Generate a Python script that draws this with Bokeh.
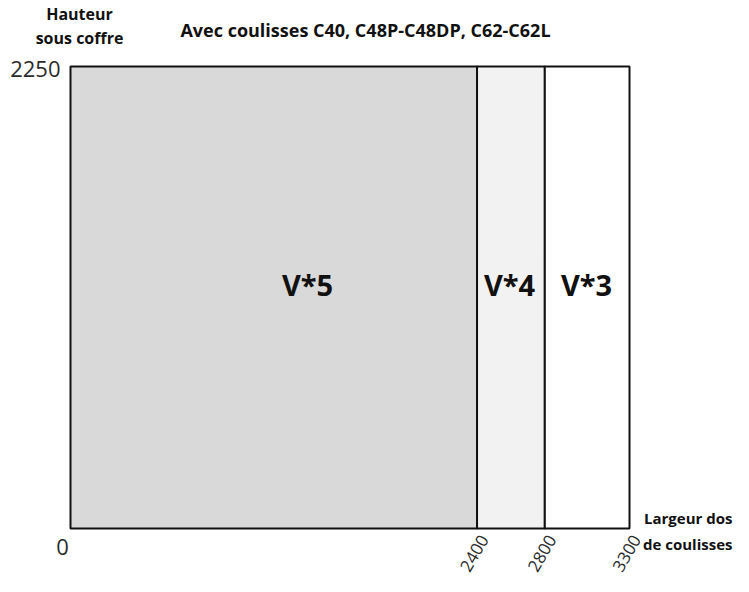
import math
from bokeh.plotting import figure
from bokeh.models import Range1d
from bokeh.core.properties import value
from bokeh.embed import file_html
from bokeh.resources import INLINE

# ---- data ----
zone_left = [0, 2400, 2800]
zone_right = [2400, 2800, 3300]
zone_labels = ["V*5", "V*4", "V*3"]
zone_colors = ["#d9d9d9", "#f2f2f2", "#ffffff"]
h_max = 2250
x_max = 3300
x_ticks_rot = [2400, 2800, 3300]
title = "Avec coulisses C40, C48P-C48DP, C62-C62L"
y_title = ["Hauteur", "sous coffre"]
x_title = ["Largeur dos", "de coulisses"]

# ---- layout (pixel geometry of the plot box) ----
W, H = 733, 576
S = 6  # small upward shift so rotated labels fit
L_PX, R_PX, T_PX, B_PX = 70, 629, 72 - S, 534 - S
sx = (R_PX - L_PX) / x_max
sy = (B_PX - T_PX) / h_max
x0 = -L_PX / sx
x1 = x0 + W / sx
y1 = h_max + T_PX / sy
y0 = y1 - H / sy

def X(px):
    return x0 + px / sx

def Y(py):
    return y1 - (py - S) / sy

p = figure(width=W, height=H, output_backend="svg", toolbar_location=None,
           x_range=Range1d(x0, x1), y_range=Range1d(y0, y1),
           min_border=0, min_border_left=0, min_border_right=0,
           min_border_top=0, min_border_bottom=0)
p.axis.visible = False
p.grid.visible = False
p.outline_line_color = None
p.background_fill_color = "white"

p.quad(left=zone_left, right=zone_right, bottom=[0] * 3, top=[h_max] * 3,
       fill_color=zone_colors, line_color="#111111", line_width=2)

FONT = value("Open Sans")
INK = "#111111"
TICK = "#2b2b2b"

# zone labels
zl_x = [X(307), X(509), X(586)]
zl_y = [Y(290)] * 3
p.text(x=zl_x, y=zl_y, text=zone_labels, text_font=FONT, text_font_style="bold",
       text_font_size="29px", text_align="center", text_baseline="middle", text_color=INK)

# title
p.text(x=[X(365)], y=[Y(35)], text=[title], text_font=FONT, text_font_style="bold",
       text_font_size="18px", text_align="center", text_baseline="middle", text_color=INK)

# y-axis title
p.text(x=[X(79)] * 2, y=[Y(19), Y(43)], text=y_title, text_font=FONT, text_font_style="bold",
       text_font_size="16px", text_align="center", text_baseline="middle", text_color=INK)

# x-axis title
p.text(x=[X(732)] * 2, y=[Y(523), Y(549)], text=x_title, text_font=FONT, text_font_style="bold",
       text_font_size="15px", text_align="right", text_baseline="middle", text_color=INK)

# tick labels
p.text(x=[X(60)], y=[h_max - 2 / sy], text=[str(h_max)], text_font=FONT,
       text_font_size="22px", text_align="right", text_baseline="middle", text_color=TICK)
p.text(x=[0 - 8 / sx], y=[0 - 18 / sy], text=["0"], text_font=FONT,
       text_font_size="22px", text_align="center", text_baseline="middle", text_color=TICK)
p.text(x=[t + 7 / sx for t in x_ticks_rot], y=[0 - 8 / sy] * len(x_ticks_rot),
       text=[str(t) for t in x_ticks_rot], text_font=FONT, text_font_size="17px",
       text_align="right", text_baseline="middle", angle=math.radians(60), text_color=TICK)

open("out.html", "w").write(file_html(p, INLINE))
